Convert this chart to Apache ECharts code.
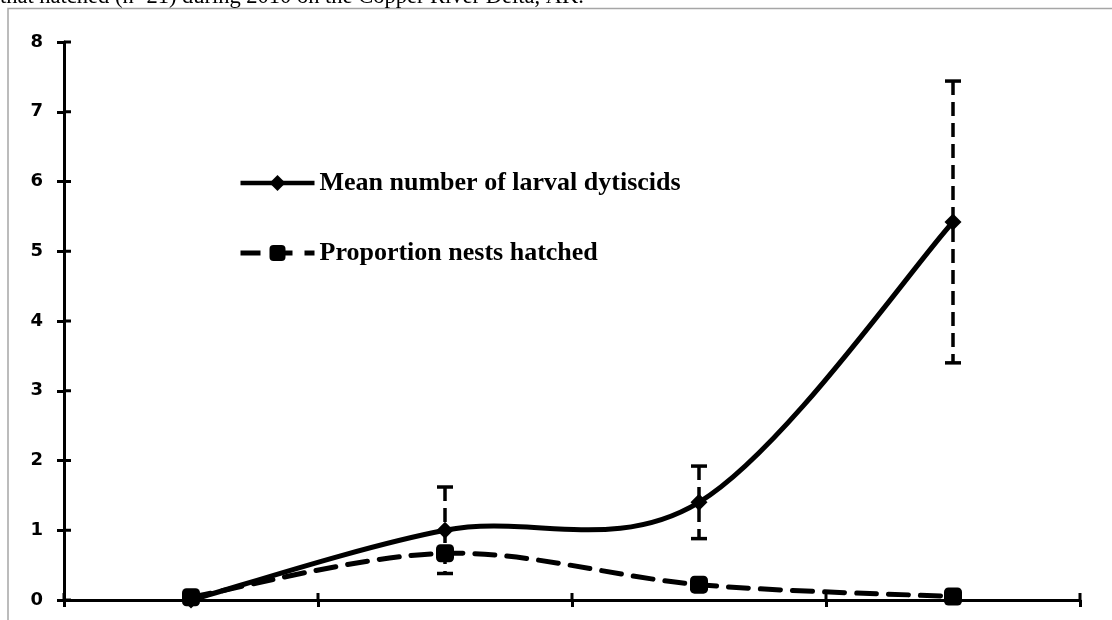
<!DOCTYPE html>
<html>
<head>
<meta charset="utf-8">
<script src="https://cdn.jsdelivr.net/npm/echarts@6/dist/echarts.min.js"></script>
<style>html,body{margin:0;padding:0;background:#fff;}#c{width:1112px;height:620px;}</style>
</head>
<body>
<div id="c"></div>
<script>
var categories = ['A', 'B', 'C', 'D'];
var meanLarval = [0.0, 1.0, 1.4, 5.42];
var meanErr = [0, 0.62, 0.52, 2.02];
var propHatched = [0.04, 0.67, 0.22, 0.05];
var yTicks = [0, 1, 2, 3, 4, 5, 6, 7, 8];
var captionText = 'that hatched (n=21) during 2010 on the Copper River Delta, AK.';
var nameMean = 'Mean number of larval dytiscids';
var nameProp = 'Proportion nests hatched';

var chart = echarts.init(document.getElementById('c'), null, {renderer: 'canvas'});

var errData = categories.map(function (c, i) { return [i, meanLarval[i], meanErr[i]]; });

// Smooth curve (Catmull-Rom -> Bezier), computed from library coordinates
function curveRenderer(values) {
  return function (params, api) {
    if (params.dataIndex !== 0) return null;
    var pts = values.map(function (v, i) { return api.coord([i, v]); });
    var n = pts.length;
    var d = 'M' + pts[0][0] + ' ' + pts[0][1];
    for (var i = 0; i < n - 1; i++) {
      var p0 = pts[Math.max(i - 1, 0)], p1 = pts[i], p2 = pts[i + 1], p3 = pts[Math.min(i + 2, n - 1)];
      var c1x = p1[0] + (p2[0] - p0[0]) / 6, c1y = p1[1] + (p2[1] - p0[1]) / 6;
      var c2x = p2[0] - (p3[0] - p1[0]) / 6, c2y = p2[1] - (p3[1] - p1[1]) / 6;
      d += ' C' + c1x + ' ' + c1y + ' ' + c2x + ' ' + c2y + ' ' + p2[0] + ' ' + p2[1];
    }
    return d;
  };
}

function makeCurveSeries(values, style) {
  var r = curveRenderer(values);
  return {
    type: 'custom', data: values.map(function (v, i) { return [i, v]; }), z: style.z,
    silent: true,
    renderItem: function (params, api) {
      var d = r(params, api);
      if (!d) return null;
      return {type: 'path', shape: {pathData: d}, style: {fill: 'none', stroke: '#000', lineWidth: style.width, lineDash: style.dash || null, lineCap: 'round'}};
    }
  };
}

// inner halves of the crossing tick marks (outer halves come from the axes)
var innerTickSeries = {
  type: 'custom', data: [[0, 0]], z: 2, silent: true,
  renderItem: function (params, api) {
    var len = 7, ch = [];
    var st = {stroke: '#000', lineWidth: 3};
    yTicks.forEach(function (v) {
      var p = api.coord([0, v]);
      var x0 = p[0] - api.size([1, 0])[0] / 2;
      ch.push({type: 'line', shape: {x1: x0, y1: p[1], x2: x0 + len, y2: p[1]}, style: st});
    });
    var bw = api.size([1, 0])[0];
    for (var i = 0; i <= categories.length; i++) {
      var q = api.coord([Math.min(i, categories.length - 1), 0]);
      var xb = (i < categories.length) ? q[0] - bw / 2 : q[0] + bw / 2;
      ch.push({type: 'line', shape: {x1: xb, y1: q[1], x2: xb, y2: q[1] - len}, style: st});
    }
    return {type: 'group', children: ch};
  }
};

var option = {
  animation: false,
  backgroundColor: '#ffffff',
  grid: {left: 64, right: 32, top: 42, bottom: 20, containLabel: false},
  graphic: [
    {type: 'rect', shape: {x: 8, y: 8.5, width: 1200, height: 700},
     style: {fill: 'none', stroke: '#a6a6a6', lineWidth: 1.5}, z: -1, silent: true},
    {type: 'text', x: 0, y: -14,
     style: {text: captionText, font: '22.5px "Liberation Serif", "Times New Roman", serif', fill: '#000'}}
  ],
  legend: {
    orient: 'vertical', left: 233, top: 165, itemWidth: 74, itemHeight: 20, itemGap: 44,
    textStyle: {fontFamily: '"Liberation Serif", "Times New Roman", serif', fontWeight: 'bold', fontSize: 26, lineHeight: 26, color: '#000'},
    data: [
      {name: nameMean, lineStyle: {width: 4.5, type: 'solid', opacity: 1, color: '#000'}},
      {name: nameProp, lineStyle: {width: 5, type: [20, 12], opacity: 1, color: '#000'}}
    ]
  },
  xAxis: [{
    type: 'category', data: categories, boundaryGap: true,
    axisLine: {lineStyle: {color: '#000', width: 3}},
    axisTick: {show: true, length: 7, lineStyle: {color: '#000', width: 3}},
    axisLabel: {show: false}, splitLine: {show: false}
  }],
  yAxis: [{
    type: 'value', min: 0, max: 8, interval: 1,
    axisLine: {show: true, lineStyle: {color: '#000', width: 3}},
    axisTick: {show: true, length: 7, lineStyle: {color: '#000', width: 3}},
    axisLabel: {margin: 21, fontFamily: '"DejaVu Sans", Verdana, sans-serif', fontWeight: 'bold', fontSize: 18, color: '#000',
      formatter: function (v) { return yTicks.indexOf(v) >= 0 ? String(v) : ''; }},
    splitLine: {show: false}
  }],
  series: [
    innerTickSeries,
    makeCurveSeries(propHatched, {width: 5, dash: [20, 12], z: 3}),
    makeCurveSeries(meanLarval, {width: 5, z: 4}),
    {
      name: nameProp, type: 'line', data: propHatched,
      symbol: 'roundRect', symbolSize: 18, showSymbol: true,
      lineStyle: {color: '#000', width: 5, type: [20, 12], opacity: 0},
      itemStyle: {color: '#000'}, z: 5
    },
    {
      name: nameMean, type: 'line', data: meanLarval,
      symbol: 'diamond', symbolSize: 17, showSymbol: true,
      lineStyle: {color: '#000', width: 4.5, opacity: 0},
      itemStyle: {color: '#000'}, z: 6
    },
    {
      name: 'err', type: 'custom', data: errData, z: 7, silent: true,
      renderItem: function (params, api) {
        var x = api.value(0), m = api.value(1), e = api.value(2);
        if (!e) return null;
        var top = api.coord([x, m + e]);
        var bot = api.coord([x, m - e]);
        var cw = 8;
        var st = {stroke: '#000', lineWidth: 3.5, lineDash: [14, 7]};
        var cs = {stroke: '#000', lineWidth: 3.5};
        return {type: 'group', children: [
          {type: 'line', shape: {x1: top[0], y1: top[1], x2: bot[0], y2: bot[1]}, style: st},
          {type: 'line', shape: {x1: top[0] - cw, y1: top[1], x2: top[0] + cw, y2: top[1]}, style: cs},
          {type: 'line', shape: {x1: bot[0] - cw, y1: bot[1], x2: bot[0] + cw, y2: bot[1]}, style: cs}
        ]};
      }
    }
  ]
};
chart.setOption(option);
</script>
</body>
</html>
